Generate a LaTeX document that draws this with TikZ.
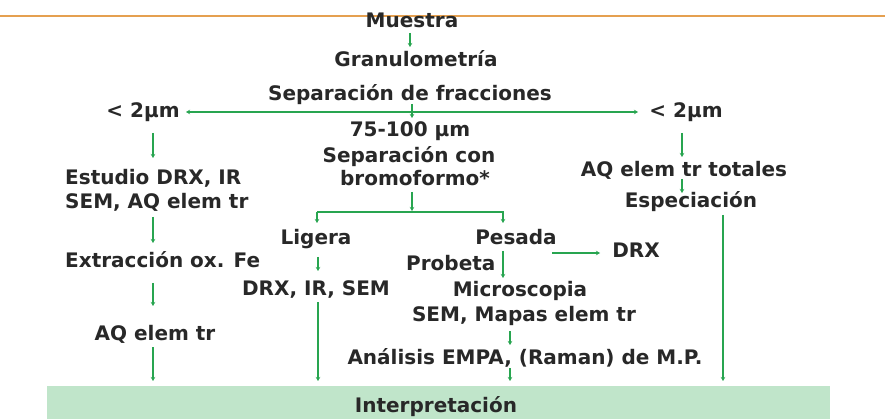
\documentclass[tikz,border=0pt]{standalone}
\usepackage{fontspec}
\setmainfont{DejaVu Sans}
\usetikzlibrary{arrows.meta}
\definecolor{arrgreen}{RGB}{40,165,80}
\definecolor{txt}{RGB}{40,40,40}
\definecolor{boxgreen}{RGB}{192,229,202}
\definecolor{topline}{RGB}{229,160,80}
\tikzset{
  lbl/.style={inner sep=0pt, anchor=base, text=txt, font=\fontsize{20}{24}\selectfont\bfseries},
  lbll/.style={lbl, anchor=base west},
  arr/.style={draw=arrgreen, line width=1.6pt, -{Stealth[length=4pt,width=4.5pt]}},
  arrboth/.style={draw=arrgreen, line width=1.6pt, {Stealth[length=4pt,width=4.5pt]}-{Stealth[length=4pt,width=4.5pt]}},
}
\begin{document}
\begin{tikzpicture}[x=1pt,y=-1pt]
\useasboundingbox (0,0) rectangle (893,419);
\fill[white] (0,0) rectangle (893,419);
\draw[topline, line width=2pt] (0,16) -- (885,16);
\fill[boxgreen] (47,386) rectangle (830,419);

% texts
\node[lbl] (muestra) at (412,28) {Muestra};
\node[lbl] (granu) at (416,67) {Granulometría};
\node[lbl] (sepfr) at (410,101) {Separación de fracciones};
\node[lbl] (frL) at (143,118) {< 2µm};
\node[lbl] (frR) at (686,118) {< 2µm};
\node[lbl] (fr75) at (410,137) {75-100 µm};
\node[lbl] (sepcon) at (409,163) {Separación con};
\node[lbl] (bromo) at (415,186) {bromoformo*};
\node[lbll] (est1) at (65,185) {Estudio DRX, IR};
\node[lbll] (est2) at (65,209) {SEM, AQ elem tr};
\node[lbll] (extr) at (65,268) {Extracción ox. Fe};
\node[lbl] (aqL) at (155,340) {AQ elem tr};
\node[lbl] (aqtot) at (684,177) {AQ elem tr totales};
\node[lbl] (espec) at (691,208) {Especiación};
\node[lbl] (ligera) at (316,245) {Ligera};
\node[lbl] (pesada) at (516,245) {Pesada};
\node[lbl] (drx) at (636,258) {DRX};
\node[lbll] (probeta) at (406,271) {Probeta};
\node[lbl] (drxir) at (316,295) {DRX, IR, SEM};
\node[lbl] (micro) at (520,297) {Microscopia};
\node[lbl] (mapas) at (524,321) {SEM, Mapas elem tr};
\node[lbl] (empa) at (525,364) {Análisis EMPA, (Raman) de M.P.};
\node[lbl] (interp) at (436,412) {Interpretación};

% connectors
\draw[arr] (410,33) -- (410,47);
\draw[arr] (412,104) -- (412,118);
\draw[arrboth] (186,112) -- (638,112);
% left column
\draw[arr] (153,133) -- (153,158);
\draw[arr] (153,217) -- (153,243);
\draw[arr] (153,283) -- (153,306);
\draw[arr] (153,347) -- (153,381);
% right column
\draw[arr] (682,133) -- (682,157);
\draw[arr] (682,179) -- (682,193);
\draw[arr] (723,215) -- (723,381);
% middle
\draw[arr] (412,192) -- (412,211);
\draw[arr] (317,212) -- (317,223);
\draw[arr] (317,212) -- (503,212) -- (503,223);
\draw[arr] (318,257) -- (318,271);
\draw[arr] (318,302) -- (318,381);
\draw[arr] (503,251) -- (503,278);
\draw[arr] (552,253) -- (600,253);
\draw[arr] (510,331) -- (510,345);
\draw[arr] (510,368) -- (510,381);
\end{tikzpicture}
\end{document}
